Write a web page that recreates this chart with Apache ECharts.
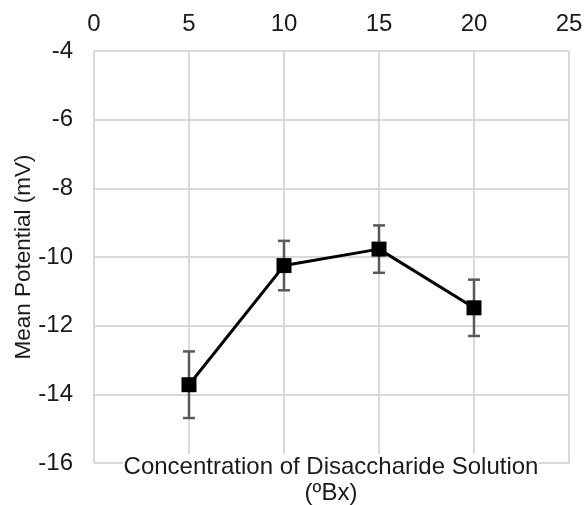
<!DOCTYPE html>
<html lang="en">
<head>
    <meta charset="UTF-8">
    <title>Mean Potential</title>
    <script src="https://cdn.jsdelivr.net/npm/echarts@6/dist/echarts.min.js"></script>
    <style>
        html, body { margin: 0; padding: 0; background: #fff; }
        #container { width: 584px; height: 505px; }
    </style>
</head>
<body>
<div id="container"></div>
<script type="text/javascript">
// concentration (ºBx), mean potential (mV), error bar half-length
var concentration = [5, 10, 15, 20];
var meanPotential = [-13.72, -10.25, -9.77, -11.48];
var errorSize = [0.97, 0.72, 0.69, 0.82];
var xTicks = [0, 5, 10, 15, 20, 25];

var dom = document.getElementById("container");
var myChart = echarts.init(dom);

var lineData = [];
var errData = [];
for (var i = 0; i < concentration.length; i++) {
    lineData.push([concentration[i], meanPotential[i]]);
    errData.push([concentration[i], meanPotential[i] - errorSize[i], meanPotential[i] + errorSize[i]]);
}

var fontFam = 'Liberation Sans, Arial, sans-serif';
var txtColor = '#1a1a1a';

var option = {
    animation: false,
    grid: { left: 94, right: 15, top: 51, bottom: 42, outerBoundsMode: 'none', containLabel: false },
    xAxis: {
        type: 'value',
        position: 'top',
        min: xTicks[0],
        max: xTicks[xTicks.length - 1],
        interval: 5,
        axisLine: { show: false },
        axisTick: { show: false },
        axisLabel: { fontSize: 24, color: txtColor, fontFamily: fontFam, margin: 15 },
        splitLine: { show: true, lineStyle: { color: '#d9d9d9', width: 2 } }
    },
    yAxis: {
        type: 'value',
        min: -16,
        max: -4,
        interval: 2,
        name: 'Mean Potential (mV)',
        nameLocation: 'middle',
        nameGap: 59,
        nameMoveOverlap: false,
        nameTextStyle: { fontSize: 22.5, color: txtColor, fontFamily: fontFam },
        axisLine: { show: false },
        axisTick: { show: false },
        axisLabel: { fontSize: 24, color: txtColor, fontFamily: fontFam, margin: 21 },
        splitLine: { show: true, lineStyle: { color: '#d9d9d9', width: 2 } }
    },
    graphic: [{
        type: 'text',
        x: 331,
        y: 454,
        z: 10,
        style: {
            text: 'Concentration of Disaccharide Solution\n(ºBx)',
            textAlign: 'center',
            fill: txtColor,
            font: '24px Liberation Sans, Arial, sans-serif',
            lineHeight: 26,
            backgroundColor: '#fff'
        }
    }],
    series: [
        {
            type: 'custom',
            name: 'error',
            data: errData,
            z: 2,
            renderItem: function (params, api) {
                var x = api.value(0);
                var lo = api.coord([x, api.value(1)]);
                var hi = api.coord([x, api.value(2)]);
                var cap = 6;
                var st = { stroke: '#595959', lineWidth: 2.5 };
                return {
                    type: 'group',
                    children: [
                        { type: 'line', shape: { x1: lo[0], y1: lo[1], x2: hi[0], y2: hi[1] }, style: st },
                        { type: 'line', shape: { x1: lo[0] - cap, y1: lo[1], x2: lo[0] + cap, y2: lo[1] }, style: st },
                        { type: 'line', shape: { x1: hi[0] - cap, y1: hi[1], x2: hi[0] + cap, y2: hi[1] }, style: st }
                    ]
                };
            }
        },
        {
            type: 'line',
            name: 'Mean Potential',
            data: lineData,
            z: 3,
            symbol: 'rect',
            symbolSize: 15,
            lineStyle: { color: '#000', width: 3 },
            itemStyle: { color: '#000' }
        }
    ]
};
myChart.setOption(option);
</script>
</body>
</html>
